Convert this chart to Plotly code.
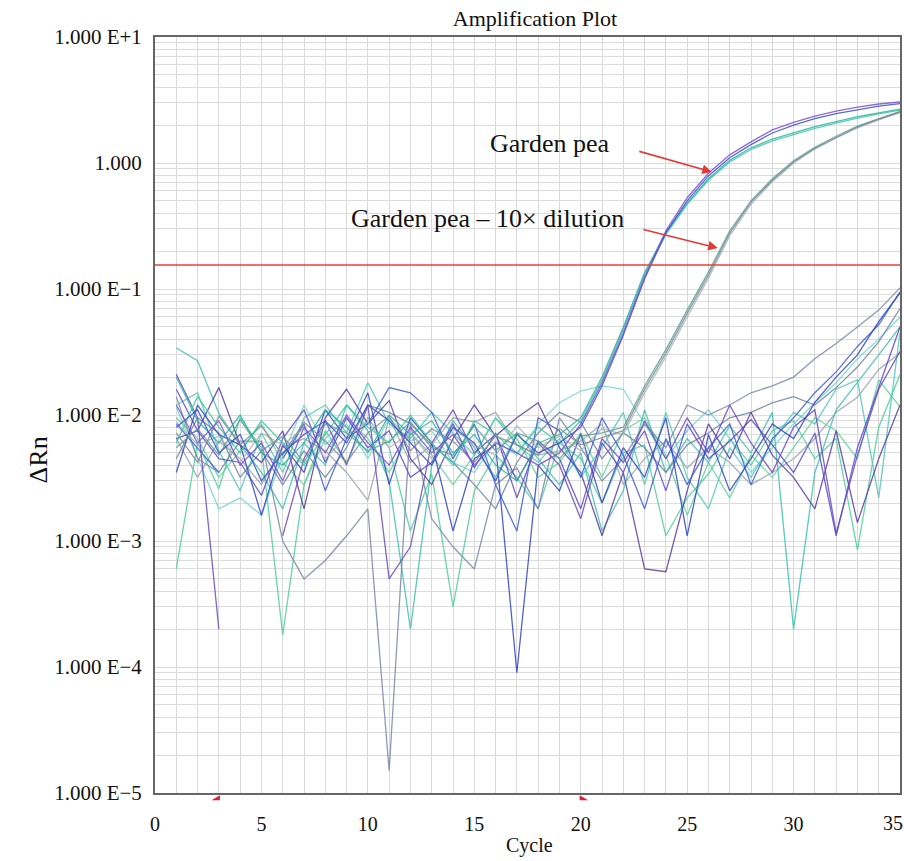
import plotly.graph_objects as go

cycles = list(range(1, 36))

# Garden pea replicates
gp_purple = [0.012, 0.006, 0.009, 0.004, 0.006, 0.003, 0.008, 0.005, 0.010, 0.006, 0.004, 0.008, 0.005, 0.007, 0.004, 0.006, 0.005, 0.004, 0.005,
             0.0085, 0.018, 0.045, 0.124, 0.29, 0.53, 0.83, 1.16, 1.47, 1.83, 2.10, 2.36, 2.58, 2.78, 2.94, 3.05]
gp_blue = [0.008, 0.011, 0.005, 0.007, 0.003, 0.005, 0.007, 0.009, 0.006, 0.012, 0.009, 0.006, 0.004, 0.008, 0.006, 0.003, 0.007, 0.005, 0.006,
           0.008, 0.017, 0.043, 0.12, 0.28, 0.50, 0.79, 1.10, 1.40, 1.73, 2.00, 2.25, 2.47, 2.66, 2.83, 2.96]
gp_teal = [0.020, 0.009, 0.006, 0.010, 0.005, 0.004, 0.006, 0.011, 0.008, 0.005, 0.010, 0.007, 0.009, 0.005, 0.007, 0.004, 0.003, 0.006, 0.007,
           0.0095, 0.020, 0.050, 0.135, 0.28, 0.48, 0.75, 1.05, 1.32, 1.55, 1.74, 1.94, 2.13, 2.33, 2.50, 2.68]
gp_green = [0.006, 0.014, 0.008, 0.005, 0.009, 0.006, 0.004, 0.007, 0.012, 0.008, 0.006, 0.010, 0.006, 0.004, 0.009, 0.007, 0.005, 0.008, 0.006,
            0.009, 0.019, 0.048, 0.13, 0.27, 0.47, 0.73, 1.02, 1.28, 1.50, 1.68, 1.88, 2.07, 2.27, 2.45, 2.63]

# Garden pea - 10x dilution replicates
dil_gray = [0.0072, 0.0042, 0.0098, 0.0058, 0.0082, 0.0048, 0.0088, 0.0062, 0.0042, 0.0072, 0.0098, 0.0052, 0.0078, 0.0062, 0.0042, 0.0068, 0.0058, 0.0048,
            0.0078, 0.0058, 0.0066, 0.0075, 0.016, 0.031, 0.064, 0.129, 0.278, 0.49, 0.73, 1.02, 1.31, 1.60, 1.93, 2.23, 2.54]
dil_sage = [0.0055, 0.0078, 0.0048, 0.0092, 0.0052, 0.0068, 0.0042, 0.0085, 0.0072, 0.0052, 0.0062, 0.0088, 0.0055, 0.0048, 0.0082, 0.0052, 0.0072, 0.0062,
            0.0045, 0.0068, 0.0072, 0.0080, 0.017, 0.033, 0.068, 0.136, 0.29, 0.50, 0.75, 1.04, 1.33, 1.63, 1.96, 2.26, 2.57]
dil_silver = [0.0088, 0.0058, 0.0068, 0.0042, 0.0072, 0.0058, 0.0078, 0.0045, 0.0068, 0.0088, 0.0055, 0.0072, 0.0045, 0.0078, 0.0058, 0.0048, 0.0082, 0.0055,
              0.0068, 0.0052, 0.0078, 0.0070, 0.015, 0.029, 0.060, 0.122, 0.265, 0.47, 0.71, 1.00, 1.29, 1.58, 1.90, 2.20, 2.50]

# Background / late wells (None = not plotted on log scale)
n1 = [0.021, 0.0095, 0.0002, None, None, 0.0011, 0.0045, 0.009, 0.004, 0.012, 0.0005, 0.0009, 0.006, 0.011, 0.005, 0.007, 0.003, 0.006,
      0.004, 0.0015, 0.006, 0.0035, 0.009, 0.0045, 0.0095, 0.005, 0.012, 0.006, 0.0035, 0.008, 0.011, 0.00115, 0.0048, 0.016, 0.032]
n2 = [0.0035, 0.012, 0.007, 0.0058, 0.0016, 0.0058, 0.0035, 0.011, 0.0065, 0.015, 0.0028, 0.0095, 0.006, 0.0012, 0.0045, 0.0058, 0.00009, 0.004,
      0.0025, 0.0071, 0.002, 0.0055, 0.0032, 0.0095, 0.0011, 0.007, 0.0025, 0.0045, 0.0085, 0.0065, 0.0126, 0.020, 0.030, 0.055, 0.093]
n3 = [0.034, 0.027, 0.0103, 0.0058, 0.0035, 0.0018, 0.006, 0.004, 0.012, 0.0075, 0.003, 0.0002, 0.004, 0.009, 0.0055, 0.0032, 0.0072, 0.0045,
      0.0028, 0.005, 0.0012, 0.0025, 0.011, 0.0035, 0.0065, 0.0042, 0.0082, 0.005, 0.0105, 0.0002, 0.0035, 0.011, 0.018, 0.030, 0.050]
n4 = [0.0006, 0.006, 0.0026, 0.0095, 0.0055, 0.00018, 0.0028, 0.0075, 0.0042, 0.0095, 0.0055, 0.0012, 0.0034, 0.0003, 0.0025, 0.0048, 0.0032, 0.0018,
      0.006, 0.0045, 0.002, 0.005, 0.0058, 0.0011, 0.0022, 0.0034, 0.0065, 0.004, 0.0075, 0.009, 0.0045, 0.0065, 0.00085, 0.008, 0.021]
n5 = [0.014, 0.0045, 0.0035, 0.0062, 0.0062, 0.001, 0.0005, 0.0007, 0.0011, 0.0018, 0.000015, 0.0085, 0.0015, 0.0009, 0.0006, 0.0028, 0.0038, 0.0018,
      0.0095, 0.0055, 0.003, 0.0045, 0.0085, 0.0055, 0.012, 0.010, 0.012, 0.015, 0.017, 0.020, 0.028, 0.037, 0.050, 0.068, 0.102]
n6 = [0.0115, 0.0045, 0.0018, 0.0022, 0.0016, 0.0048, 0.012, 0.0058, 0.0085, 0.0045, 0.0095, 0.0062, 0.0075, 0.0042, 0.0035, 0.0062, 0.0048, 0.0085,
      0.0125, 0.0155, 0.017, 0.016, 0.0085, 0.0045, 0.0075, 0.011, 0.0065, 0.0035, 0.0055, 0.0085, 0.0125, 0.018, 0.028, 0.040, 0.060]
n7 = [0.0065, 0.0075, 0.0165, 0.0058, 0.0042, 0.0075, 0.0018, 0.0095, 0.016, 0.0085, 0.013, 0.0045, 0.0028, 0.0065, 0.012, 0.0068, 0.0095, 0.0125,
      0.0055, 0.0035, 0.0011, 0.0035, 0.0006, 0.00057, 0.0025, 0.0085, 0.0045, 0.0105, 0.0048, 0.0032, 0.0018, 0.0075, 0.0014, 0.0045, 0.012]
n8 = [0.0085, 0.0055, 0.0035, None, None, 0.0045, 0.0085, 0.0025, 0.0065, 0.0085, 0.0165, 0.015, 0.0105, 0.0045, 0.0085, 0.0028, 0.0012, 0.0095,
      0.0075, 0.0032, 0.0095, 0.0048, 0.0018, 0.0065, 0.0028, 0.0055, 0.0085, 0.0028, 0.0065, 0.0095, 0.015, 0.022, 0.035, 0.052, 0.095]
n9 = [0.012, 0.015, 0.0052, 0.0025, 0.0072, 0.0035, 0.0095, 0.012, 0.0072, 0.018, 0.0085, 0.0065, 0.0105, 0.0072, 0.0048, 0.0095, 0.0058, 0.0042,
      0.0065, 0.0032, 0.0055, 0.0105, 0.0028, 0.0105, 0.0032, 0.0018, 0.0055, 0.0032, 0.0062, 0.0105, 0.0085, 0.016, 0.019, 0.0022, 0.045]
n10 = [0.0065, 0.0032, 0.0062, 0.0045, 0.0028, 0.0055, 0.0065, 0.0052, 0.0035, 0.0021, 0.0095, 0.0042, 0.0058, 0.0095, 0.0088, 0.0105, 0.0058, 0.0048,
       0.0052, 0.0062, 0.0085, 0.0028, 0.0045, 0.0062, 0.0038, 0.0055, 0.0042, 0.0028, 0.0035, 0.0045, 0.0065, 0.0105, 0.0138, 0.023, 0.031]
n11 = [0.016, 0.0075, 0.0045, 0.0042, 0.0023, 0.0065, 0.011, 0.0042, 0.0095, 0.0055, 0.0075, 0.0032, 0.0042, 0.0085, 0.0038, 0.0072, 0.0022, 0.0062,
       0.0045, 0.0018, 0.0065, 0.0042, 0.0075, 0.0025, 0.0085, 0.0045, 0.0062, 0.0092, 0.0058, 0.0035, 0.0072, 0.0011, 0.0055, 0.0165, 0.050]
n12 = [0.0095, 0.0065, 0.0032, 0.0052, 0.0085, 0.0042, 0.0028, 0.0065, 0.0095, 0.0065, 0.0035, 0.0072, 0.0048, 0.0028, 0.0048, 0.0095, 0.0065, 0.0032,
       0.0042, 0.0072, 0.0032, 0.0075, 0.0095, 0.0048, 0.0016, 0.0042, 0.0022, 0.0048, 0.0032, 0.0055, 0.0095, 0.0075, 0.0045, 0.019, 0.0116]
n13 = [0.0045, 0.0095, 0.0072, 0.0032, 0.0052, 0.0028, 0.0052, 0.0032, 0.0055, 0.012, 0.0105, 0.0085, 0.0058, 0.0042, 0.0028, 0.0018, 0.0042, 0.0072,
       0.0105, 0.0088, 0.0045, 0.0072, 0.0055, 0.0035, 0.0058, 0.0072, 0.0095, 0.0105, 0.0125, 0.014, 0.012, 0.0165, 0.024, 0.038, 0.070]

series = [
    (n10, "#9aa4b0"), (n12, "#62d49a"), (n4, "#4fd09a"), (n6, "#72d8d0"), (n9, "#52c9b8"),
    (n3, "#3fc2b0"), (n13, "#6f86a0"), (n5, "#7d88a8"), (n11, "#5b4bd0"), (n7, "#5a3fa8"),
    (n1, "#6a4cc2"), (n8, "#3c5fd8"), (n2, "#3346c8"),
    (dil_silver, "#aab2ba"), (dil_sage, "#5da494"), (dil_gray, "#7f8c98"),
    (gp_green, "#3cc9a0"), (gp_teal, "#2fb5a5"), (gp_blue, "#3f51c9"), (gp_purple, "#7b52d6"),
]

threshold = 0.155
threshold_faint = 0.198
baseline_marks = [3.0, 20.0]   # baseline start / end markers below the axis

x_ticks = [0, 5, 10, 15, 20, 25, 30]
x_last_tick = 35
decades = [1e-5, 1e-4, 1e-3, 1e-2, 1e-1, 1, 10]
decade_labels = ["1.000 E\u22125", "1.000 E\u22124", "1.000 E\u22123", "1.000 E\u22122", "1.000 E\u22121", "1.000", "1.000 E+1"]

yvals, ytext = [], []
for d, lab in zip(decades, decade_labels):
    yvals.append(d)
    ytext.append(lab)
    if d < 10:
        for m in range(2, 10):
            yvals.append(d * m)
            ytext.append("")

FONT = "Liberation Serif"

fig = go.Figure()
for vals, col in series:
    fig.add_trace(go.Scatter(x=cycles, y=vals, mode="lines", line=dict(color=col, width=1.3),
                             opacity=0.85, connectgaps=False, showlegend=False, hoverinfo="skip"))

shapes = [
    dict(type="rect", xref="x", yref="paper", x0=14.33, x1=22.64, y0=0.804, y1=0.890,
         fillcolor="white", line=dict(width=0), layer="between"),
    dict(type="rect", xref="x", yref="paper", x0=5.17, x1=22.78, y0=0.722, y1=0.8016,
         fillcolor="white", line=dict(width=0), layer="between"),
    dict(type="line", xref="paper", yref="y", x0=0, x1=1, y0=threshold_faint, y1=threshold_faint,
         line=dict(color="rgba(240,150,140,0.35)", width=1), layer="between"),
    dict(type="line", xref="paper", yref="y", x0=0, x1=1, y0=threshold, y1=threshold,
         line=dict(color="#e8403c", width=1.3), layer="above"),
]
# small red wedges under the x axis at baseline cycles
for i, c in enumerate(baseline_marks):
    if i == 0:
        path = f"M {c - 0.35},-0.0095 L {c + 0.05},-0.0095 L {c + 0.05},-0.003 Z"
    else:
        path = f"M {c - 0.05},-0.0095 L {c + 0.35},-0.0095 L {c - 0.05},-0.003 Z"
    shapes.append(dict(type="path", xref="x", yref="paper", path=path,
                       fillcolor="#e0203a", line=dict(width=0), layer="above"))

annotations = [
    dict(text="Garden pea", x=18.55, y=0.151, xref="x", yref="y", showarrow=False,
         font=dict(family=FONT, size=26, color="#111")),
    dict(text="Garden pea \u2013 10\u00d7 dilution", x=15.64, y=-0.437, xref="x", yref="y", showarrow=False,
         font=dict(family=FONT, size=26, color="#111")),
    dict(text="", x=26.16, y=-0.071, xref="x", yref="y", ax=-74, ay=-21, showarrow=True,
         arrowhead=2, arrowsize=1.2, arrowwidth=1.6, arrowcolor="#e03a3a"),
    dict(text="", x=26.44, y=-0.675, xref="x", yref="y", ax=-76, ay=-19, showarrow=True,
         arrowhead=2, arrowsize=1.2, arrowwidth=1.6, arrowcolor="#e03a3a"),
    dict(text=str(x_last_tick), x=x_last_tick, y=-0.0395, xref="x", yref="paper", showarrow=False,
         xanchor="center", yanchor="middle", xshift=-7,
         font=dict(family=FONT, size=20, color="#111")),
    dict(text="\u0394Rn", x=-0.157, y=0.44, xref="paper", yref="paper", showarrow=False, textangle=-90,
         xanchor="center", yanchor="middle",
         font=dict(family=FONT, size=26, color="#111")),
    dict(text="Cycle", x=0.503, y=-0.069, xref="paper", yref="paper", showarrow=False,
         xanchor="center", yanchor="middle",
         font=dict(family=FONT, size=20, color="#111")),
]

fig.update_layout(
    width=904, height=861,
    margin=dict(l=155, r=4, t=37, b=68, autoexpand=False),
    paper_bgcolor="white", plot_bgcolor="white",
    title=dict(text="Amplification Plot", x=0.51, xref="paper", y=1 - 18 / 861, yanchor="middle",
               font=dict(family=FONT, size=22, color="#111")),
    shapes=shapes, annotations=annotations,
    xaxis=dict(range=[0, 35], tickvals=x_ticks, showgrid=True, gridcolor="#d9d9d9", gridwidth=1,
               minor=dict(dtick=1, showgrid=True, gridcolor="#d9d9d9", gridwidth=1),
               showline=True, linecolor="#666", linewidth=2, mirror=True, zeroline=False,
               ticks="", ticklabelstandoff=12,
               tickfont=dict(family=FONT, size=20, color="#111")),
    yaxis=dict(type="log", range=[-5, 1], tickvals=yvals, ticktext=ytext, showgrid=True,
               gridcolor="#dcdcdc", gridwidth=1,
               showline=True, linecolor="#666", linewidth=2, mirror=True, zeroline=False,
               ticks="", ticklabelstandoff=7,
               tickfont=dict(family=FONT, size=21, color="#111")),
)

fig.write_html(
    "out.html",
    config={"displayModeBar": False},
    post_script="document.body.style.margin='0px';document.body.style.overflow='hidden';"
                "document.documentElement.style.overflow='hidden';",
)
